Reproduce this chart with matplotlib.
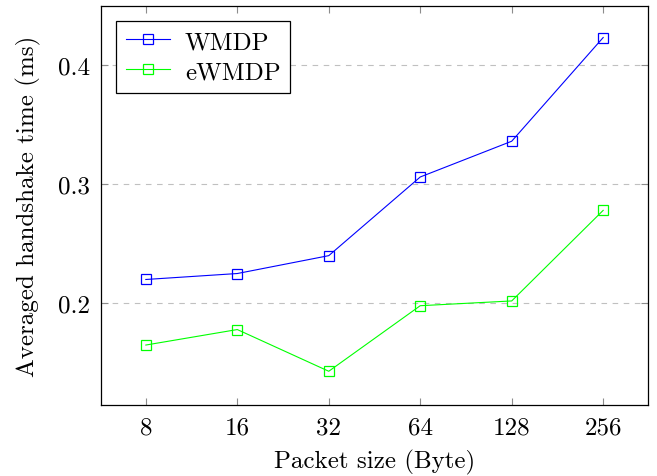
import matplotlib
matplotlib.use('Agg')
import matplotlib.pyplot as plt

plt.rcParams['font.family'] = 'serif'
plt.rcParams['font.serif'] = ['cmr10', 'DejaVu Serif']
plt.rcParams['mathtext.fontset'] = 'cm'
plt.rcParams['axes.formatter.use_mathtext'] = True

packet_sizes = ['8', '16', '32', '64', '128', '256']
wmdp = [0.220, 0.225, 0.240, 0.306, 0.336, 0.423]
ewmdp = [0.165, 0.178, 0.143, 0.198, 0.202, 0.278]

fig = plt.figure(figsize=(6.57, 4.77), dpi=100)
ax = fig.add_axes([101 / 657, 1 - 406 / 477, 547 / 657, 399.3 / 477])

x = list(range(len(packet_sizes)))
ax.plot(x, wmdp, '-s', color='blue', lw=0.8, ms=7.5, mfc='none', mew=0.9, label='WMDP')
ax.plot(x, ewmdp, '-s', color='#00ff00', lw=0.8, ms=7.5, mfc='none', mew=0.9, label='eWMDP')

ax.set_xlim(-0.49, 5.49)
ax.set_ylim(0.1147, 0.4497)
ax.set_xticks(x)
ax.set_xticklabels(packet_sizes)
ax.set_yticks([0.2, 0.3, 0.4])
ax.set_yticklabels(['0.2', '0.3', '0.4'])
ax.grid(True, axis='y', color='#c0c0c0', ls=(0, (5, 5)), lw=0.8)
ax.set_axisbelow(True)
ax.tick_params(direction='in', top=True, right=True, length=5, width=0.8,
               color='#8c8c8c', labelsize=18, pad=8)
for s in ax.spines.values():
    s.set_linewidth(0.9)

ax.set_xlabel('Packet size (Byte)', fontsize=18, labelpad=8)
ax.set_ylabel('Averaged handshake time (ms)', fontsize=18, labelpad=12)

leg = ax.legend(loc='upper left', fontsize=18, fancybox=False, edgecolor='black',
                framealpha=1, borderaxespad=0.6, handlelength=1.75,
                borderpad=0.4, labelspacing=0.3, handletextpad=0.6)
leg.get_frame().set_linewidth(0.9)

fig.savefig('out.png', dpi=100)
